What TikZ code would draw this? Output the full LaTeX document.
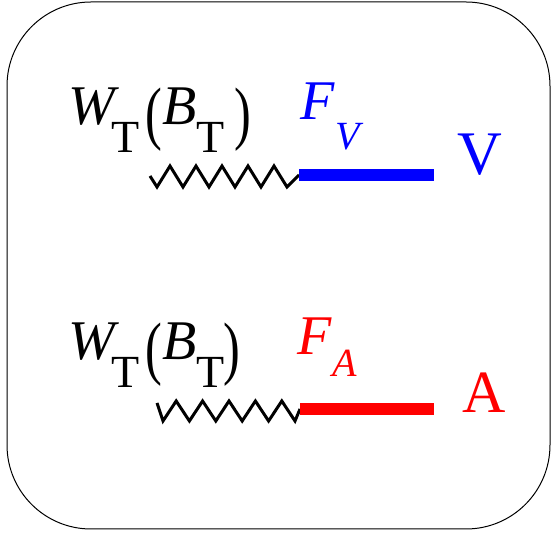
\documentclass[tikz,border=0pt]{standalone}
\usepackage{fontspec}
\setmainfont{Liberation Serif}
\usepackage{xcolor}
\usepackage{graphicx}

\newcommand{\lowsub}[2]{\raisebox{#1}{\fontsize{23pt}{23pt}\selectfont\upshape #2}}
\newcommand{\tallp}[1]{\raisebox{-6pt}{\scalebox{0.9}[1.25]{\fontsize{28pt}{28pt}\selectfont\upshape #1}}}

\begin{document}
\begin{tikzpicture}[x=0.5pt, y=-0.5pt,
    lbl/.style={inner sep=0pt, anchor=base west},
    zig/.style={line width=1.5pt, line join=miter},
    bar/.style={line width=6pt}]
    \useasboundingbox (0,0) rectangle (552,533);
    \draw[line width=0.5pt, rounded corners=42pt] (7,2) rectangle (550,529);

    % vector channel
    \node[lbl] (wtop) at (68,125)
    {\fontsize{28pt}{28pt}\selectfont\textit{W}\hspace{-4pt}\lowsub{-14pt}{T}\hspace{3pt}\tallp{(}\textit{B}\hspace{0pt}\lowsub{-14pt}{T}\hspace{5pt}\tallp{)}};
    \node[lbl, blue] (fv) at (300,120)
    {\fontsize{28pt}{28pt}\selectfont\textit{F}\hspace{0pt}\raisebox{-15pt}{\fontsize{20pt}{20pt}\selectfont\textit{V}}};
    \node[lbl, blue] (vlab) at (457,175) {\fontsize{31pt}{31pt}\selectfont V};
    \coordinate (za) at (150,176);
    \coordinate (v1) at (299,175);
    \coordinate (v2) at (434,175);
    \draw[zig] (za) -- ++(7,11) \foreach \k in {1,...,5} { -- ++(13,-21) -- ++(13,21) } -- (v1);
    \draw[bar, blue] (v1) -- (v2);

    % axial channel
    \node[lbl] (wbot) at (68,360)
    {\fontsize{28pt}{28pt}\selectfont\textit{W}\hspace{-4pt}\lowsub{-14pt}{T}\hspace{3pt}\tallp{(}\textit{B}\hspace{0pt}\lowsub{-14pt}{T}\hspace{-0.5pt}\tallp{)}};
    \node[lbl, red] (fa) at (297,355)
    {\fontsize{28pt}{28pt}\selectfont\textit{F}\hspace{0pt}\raisebox{-11pt}{\fontsize{20pt}{20pt}\selectfont\textit{A}}};
    \node[lbl, red] (alab) at (462,413) {\fontsize{30pt}{30pt}\selectfont A};
    \coordinate (zb) at (157,403);
    \coordinate (a1) at (300,409);
    \coordinate (a2) at (434,409);
    \draw[zig] (zb) -- ++(6,18) \foreach \k in {1,...,5} { -- ++(13.2,-20) -- ++(13.2,20) } -- (a1);
    \draw[bar, red] (a1) -- (a2);
\end{tikzpicture}
\end{document}
